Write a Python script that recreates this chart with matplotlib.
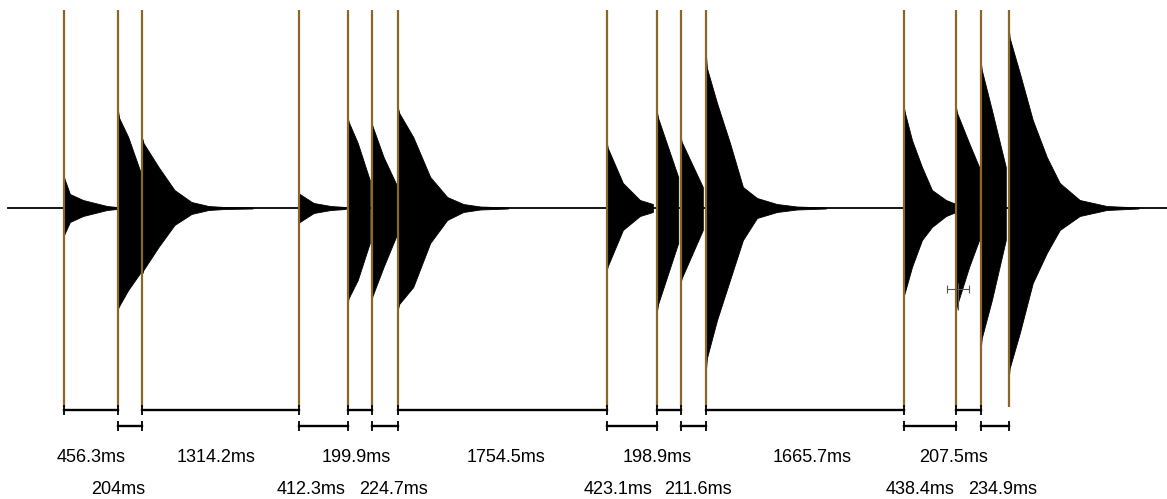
import numpy as np
import matplotlib
matplotlib.use("Agg")
import matplotlib.pyplot as plt

# intervals between onsets (ms), in order
intervals = [456.3, 204, 1314.2, 412.3, 199.9, 224.7, 1754.5,
             423.1, 198.9, 211.6, 1665.7, 438.4, 207.5, 234.9]

# envelope of each hit: time after onset (ms), upper and lower amplitude
env_t = [
    [0, 8, 50, 160, 362, 445],
    [0, 8, 84, 202, 336],
    [0, 8, 135, 269, 412, 555, 690, 925],
    [0, 8, 126, 269, 395],
    [0, 8, 84, 185],
    [0, 8, 101, 219],
    [0, 8, 126, 269, 412, 547, 690, 925],
    [0, 8, 135, 278, 387],
    [0, 8, 177],
    [0, 8, 185],
    [0, 8, 93, 202, 311, 429, 597, 765, 1009],
    [0, 8, 67, 151, 235, 353, 437],
    [0, 8, 109, 193],
    [0, 8, 93, 210],
    [0, 8, 93, 202, 320, 429, 597, 824, 1093],
]
env_top = [
    [31, 28, 14, 8, 2, 1],
    [96, 90, 71, 31, 10],
    [69, 65, 41, 18, 6, 2, 1, 0.5],
    [15, 14, 5, 2, 1],
    [90, 86, 65, 28],
    [86, 82, 51, 21],
    [99, 95, 71, 31, 11, 4, 1.5, 0.5],
    [65, 60, 25, 8, 4],
    [95, 90, 31],
    [70, 66, 21],
    [153, 140, 105, 65, 21, 10, 4, 1.5, 0.5],
    [100, 95, 68, 41, 18, 8, 4],
    [100, 95, 65, 41],
    [146, 138, 98, 41],
    [180, 170, 135, 88, 51, 25, 8, 2, 0.5],
]
env_bot = [
    [-27, -25, -14, -8, -2, -1],
    [-100, -98, -82, -62, -20],
    [-65, -62, -39, -17, -6, -2, -1, -0.5],
    [-15, -14, -5, -2, -1],
    [-94, -90, -72, -35],
    [-92, -88, -59, -25],
    [-100, -96, -79, -35, -12, -4, -1.5, -0.5],
    [-62, -58, -22, -8, -4],
    [-102, -96, -35],
    [-74, -70, -22],
    [-162, -150, -112, -72, -32, -10, -4, -1.5, -0.5],
    [-87, -84, -59, -32, -19, -8, -4],
    [-102, -97, -59, -32],
    [-140, -130, -92, -32],
    [-170, -160, -125, -75, -45, -22, -8, -2, -0.5],
]

onsets = np.concatenate([[0], np.cumsum(intervals)])

gold = '#8a6726'
fig = plt.figure(figsize=(11.67, 4.99), dpi=100)
ax = fig.add_axes([0, 0, 1, 1])
ax.set_xlim(-538, 9277)
ax.set_ylim(-291, 208)
ax.axis('off')

# baseline
ax.plot([-471, 9277], [0, 0], color='black', lw=1.3, zorder=1)

# waveform envelopes
for t0, tt, up, lo in zip(onsets, env_t, env_top, env_bot):
    tt = t0 + np.array(tt)
    ax.fill_between(tt, lo, up, color='black', lw=0.6, edgecolor='black', zorder=2)

# onset markers
ax.vlines(onsets, -199, 198, color=gold, lw=1.6, zorder=3)

# brackets and labels
rows_y = [-202, -218]
text_y = [-249, -282]
label_shift = [0, -100, -35, -100, -25, 70, 25, -120, -100, 35, 60, -85, -125, 70]
for i, v in enumerate(intervals):
    a, b = onsets[i], onsets[i + 1]
    r = i % 2
    y = rows_y[r]
    ax.plot([a, b], [y, y], color='black', lw=1.7, zorder=3)
    ax.vlines([a, b], y - 5, y + 5, color='black', lw=1.3, zorder=3)
    ax.text((a + b) / 2 + label_shift[i], text_y[r], f"{v:g}ms",
            ha='center', va='center', fontsize=13, family='Liberation Sans')

# little cursor mark
cx = onsets[12] + 15
ax.plot([cx - 93, cx + 93], [-81, -81], color='#555555', lw=0.8, zorder=4)
ax.vlines([cx - 93, cx + 93], -85, -77, color='#555555', lw=0.8, zorder=4)
ax.vlines([cx], -102, -75, color='#555555', lw=0.8, zorder=4)

fig.savefig('out.png', dpi=100)
